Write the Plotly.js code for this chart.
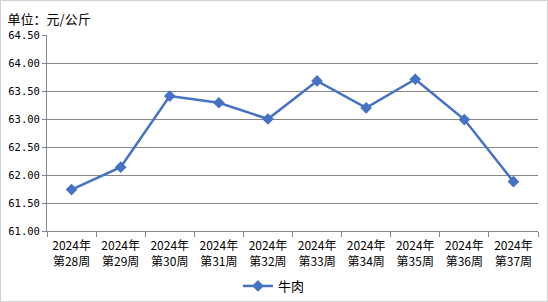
<!DOCTYPE html>
<html><head><meta charset="utf-8">
<script src="https://cdn.plot.ly/plotly-3.0.1.min.js"></script>
<style>html,body{margin:0;padding:0;background:#fff}#c{width:548px;height:302px;box-sizing:border-box;border:1px solid #d0d0d0}</style>
</head><body><div id="c"></div>
<script>
const weeks = ["2024年<br>第28周","2024年<br>第29周","2024年<br>第30周","2024年<br>第31周","2024年<br>第32周","2024年<br>第33周","2024年<br>第34周","2024年<br>第35周","2024年<br>第36周","2024年<br>第37周"];
const beef = [61.74, 62.14, 63.41, 63.29, 63.00, 63.68, 63.20, 63.71, 62.99, 61.88];
const seriesName = "牛肉";
const font = "'Noto Sans CJK SC', 'DejaVu Sans', sans-serif";
Plotly.newPlot('c', [{
  x: weeks, y: beef, name: seriesName, type: 'scatter', mode: 'lines+markers',
  line: {color: '#4472C4', width: 2.5},
  marker: {symbol: 'diamond', size: 9, color: '#4472C4'}
}], {
  width: 546, height: 300,
  margin: {l: 46, r: 9, t: 34, b: 70},
  paper_bgcolor: '#fff', plot_bgcolor: '#fff',
  font: {family: font, size: 11, color: '#000'},
  title: {text: '单位：元/公斤', x: 0.012, xanchor: 'left', xref: 'container', yref: 'container', y: 0.94, yanchor: 'middle', font: {family: font, size: 13, color: '#000'}},
  xaxis: {type: 'category', showgrid: false, showline: true, linecolor: '#868686', linewidth: 1,
    ticks: 'outside', tickson: 'boundaries', ticklen: 5, tickcolor: '#868686', ticklabelstandoff: 4,
    tickfont: {family: font, size: 12}, range: [-0.5, 9.5], fixedrange: true, automargin: false},
  yaxis: {range: [61, 64.5], dtick: 0.5, tickformat: '.2f', showgrid: true, gridcolor: '#868686', gridwidth: 1,
    showline: true, linecolor: '#868686', ticks: 'outside', ticklen: 4, tickcolor: '#868686',
    tickfont: {family: "'DejaVu Sans Mono', monospace", size: 10.5}, zeroline: false, automargin: false},
  showlegend: true,
  legend: {orientation: 'h', x: 0.5, xanchor: 'center', xref: 'container', yref: 'container', y: 0.05, yanchor: 'middle', font: {family: font, size: 13}}
}, {displayModeBar: false, staticPlot: true});
</script></body></html>
